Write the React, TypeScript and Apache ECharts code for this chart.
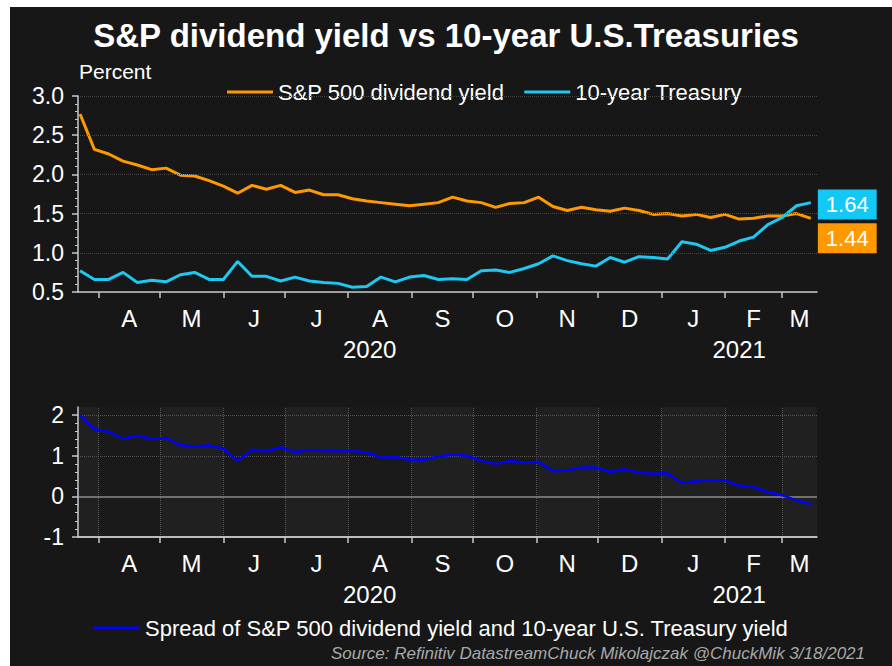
import React, { useEffect, useRef } from 'react';
import * as echarts from 'echarts';

const weekDates = [
  '2020-03-23', '2020-03-30', '2020-04-06', '2020-04-13', '2020-04-20', '2020-04-27',
  '2020-05-04', '2020-05-11', '2020-05-18', '2020-05-25', '2020-06-01', '2020-06-08',
  '2020-06-15', '2020-06-22', '2020-06-29', '2020-07-06', '2020-07-13', '2020-07-20',
  '2020-07-27', '2020-08-03', '2020-08-10', '2020-08-17', '2020-08-24', '2020-08-31',
  '2020-09-07', '2020-09-14', '2020-09-21', '2020-09-28', '2020-10-05', '2020-10-12',
  '2020-10-19', '2020-10-26', '2020-11-02', '2020-11-09', '2020-11-16', '2020-11-23',
  '2020-11-30', '2020-12-07', '2020-12-14', '2020-12-21', '2020-12-28', '2021-01-04',
  '2021-01-11', '2021-01-18', '2021-01-25', '2021-02-01', '2021-02-08', '2021-02-15',
  '2021-02-22', '2021-03-01', '2021-03-08', '2021-03-15',
];

const dividendYield = [
  2.77, 2.32, 2.26, 2.17, 2.12, 2.06, 2.08, 1.99, 1.98, 1.92, 1.85, 1.76, 1.86,
  1.81, 1.86, 1.77, 1.80, 1.74, 1.74, 1.69, 1.66, 1.64, 1.62, 1.60, 1.62, 1.64,
  1.71, 1.66, 1.64, 1.58, 1.63, 1.64, 1.71, 1.59, 1.54, 1.58, 1.55, 1.53, 1.57,
  1.54, 1.49, 1.50, 1.47, 1.49, 1.45, 1.49, 1.43, 1.44, 1.47, 1.47, 1.50, 1.44,
];

const treasuryYield = [
  0.77, 0.66, 0.66, 0.75, 0.62, 0.65, 0.63, 0.72, 0.75, 0.66, 0.66, 0.89, 0.70,
  0.70, 0.64, 0.69, 0.64, 0.62, 0.61, 0.56, 0.57, 0.69, 0.63, 0.69, 0.71, 0.66,
  0.67, 0.66, 0.77, 0.78, 0.75, 0.80, 0.86, 0.96, 0.90, 0.86, 0.83, 0.94, 0.88,
  0.95, 0.94, 0.92, 1.14, 1.11, 1.03, 1.07, 1.15, 1.20, 1.36, 1.45, 1.60, 1.64,
];

const spreadYield = [
  2.00, 1.65, 1.59, 1.42, 1.49, 1.41, 1.44, 1.26, 1.23, 1.25, 1.18, 0.87, 1.15,
  1.11, 1.21, 1.09, 1.14, 1.12, 1.12, 1.12, 1.08, 0.96, 0.97, 0.90, 0.90, 0.98,
  1.03, 1.00, 0.88, 0.80, 0.87, 0.83, 0.85, 0.62, 0.64, 0.71, 0.71, 0.60, 0.67,
  0.58, 0.56, 0.57, 0.33, 0.37, 0.40, 0.39, 0.27, 0.23, 0.10, 0.03, -0.10, -0.19,
];

const monthStarts = [
  '2020-04-01', '2020-05-01', '2020-06-01', '2020-07-01', '2020-08-01', '2020-09-01',
  '2020-10-01', '2020-11-01', '2020-12-01', '2021-01-01', '2021-02-01', '2021-03-01',
];
const yearStarts = ['2021-01-01'];
const axisStart = '2020-03-22';
const axisEnd = '2021-03-18';
const spreadTicks = [-1, 0, 1, 2];
const spreadGridValues = [1, 2];
const spreadMin = -1;
const monthLetters = ['J', 'F', 'M', 'A', 'M', 'J', 'J', 'A', 'S', 'O', 'N', 'D'];

const titleText = 'S&P dividend yield vs 10-year U.S.Treasuries';
const divName = 'S&P 500 dividend yield';
const tsyName = '10-year Treasury';
const spreadName = 'Spread of S&P 500 dividend yield and 10-year U.S. Treasury yield';
const sourceText = 'Source: Refinitiv DatastreamChuck Mikolajczak @ChuckMik 3/18/2021';

const FONT = '"Liberation Sans", Arial, Helvetica, sans-serif';

function toUTC(s: string): number {
  const [y, m, d] = s.split('-').map(Number);
  return Date.UTC(y, m - 1, d);
}

export default function App() {
  const ref = useRef<HTMLDivElement>(null);

  useEffect(() => {
    if (!ref.current) return;
    const chart = echarts.init(ref.current, undefined, { renderer: 'svg' });

    const minT = toUTC(axisStart);
    const maxT = toUTC(axisEnd);
    const tickTs = monthStarts.map(toUTC);
    const bounds = [...tickTs, maxT];
    const monthMids: number[] = [];
    for (let i = 0; i < bounds.length - 1; i++) monthMids.push((bounds[i] + bounds[i + 1]) / 2);
    const yb = [minT, ...yearStarts.map(toUTC), maxT];
    const yearMids: number[] = [];
    for (let i = 0; i < yb.length - 1; i++) yearMids.push((yb[i] + yb[i + 1]) / 2);

    // alternating month bands (lighter ones) for the lower panel
    const allBounds = [minT, ...tickTs, maxT];
    const bands: any[] = [];
    for (let i = 0; i < allBounds.length - 1; i += 2) {
      bands.push([{ xAxis: allBounds[i] }, { xAxis: allBounds[i + 1] }]);
    }

    const axisColor = '#c8c8c8';

    const monthAxis = (gridIndex: number) => ({
      type: 'value',
      gridIndex,
      position: 'bottom',
      z: 10,
      min: minT,
      max: maxT,
      axisLine: { show: true, onZero: false, lineStyle: { color: axisColor, width: 1.5 } },
      axisTick: { show: true, customValues: tickTs, length: 6, lineStyle: { color: axisColor, width: 1.5 } },
      axisLabel: {
        show: true,
        customValues: monthMids,
        formatter: (v: number) => monthLetters[new Date(v).getUTCMonth()],
        color: '#ffffff',
        fontSize: 24,
        fontFamily: FONT,
        margin: 14,
      },
      splitLine: { show: false },
      splitArea: { show: false },
    });

    const yearAxis = (gridIndex: number) => ({
      type: 'value',
      gridIndex,
      position: 'bottom',
      min: minT,
      max: maxT,
      axisLine: { show: false, onZero: false },
      axisTick: { show: false },
      splitLine: { show: false },
      axisLabel: {
        show: true,
        customValues: yearMids,
        formatter: (v: number) => String(new Date(v).getUTCFullYear()),
        color: '#ffffff',
        fontSize: 24,
        fontFamily: FONT,
        margin: 45,
      },
    });

    const pts = (vals: number[]) => weekDates.map((d, i) => [toUTC(d), vals[i]]);

    const gridLines = [
      ...tickTs.map((t) => ({ xAxis: t, lineStyle: { color: '#555555', type: 'dotted', width: 1 } })),
      ...spreadGridValues.map((v) => ({ yAxis: v, lineStyle: { color: '#555555', type: 'dotted', width: 1 } })),
      { yAxis: 0, lineStyle: { color: '#8c8c8c', type: 'solid', width: 1.5 } },
      { yAxis: spreadMin, lineStyle: { color: axisColor, type: 'solid', width: 1.5 } },
    ];

    chart.setOption({
      animation: false,
      backgroundColor: 'transparent',
      textStyle: { fontFamily: FONT },
      title: {
        text: titleText,
        left: 'center',
        top: 14,
        textStyle: { color: '#ffffff', fontSize: 33, fontWeight: 'bold', fontFamily: FONT },
      },
      legend: [
        {
          data: [divName, tsyName],
          left: 222,
          top: 76,
          icon: 'rect',
          itemWidth: 46,
          itemHeight: 3,
          itemGap: 20,
          textStyle: { color: '#ffffff', fontSize: 22, fontFamily: FONT },
        },
        {
          data: [spreadName],
          left: 88,
          top: 612,
          icon: 'rect',
          itemWidth: 47,
          itemHeight: 3,
          textStyle: { color: '#ffffff', fontSize: 22, fontFamily: FONT },
        },
      ],
      grid: [
        { left: 78, top: 96, width: 739, height: 196 },
        { left: 78, top: 407, width: 739, height: 130, show: true, backgroundColor: '#1a1a1a', borderWidth: 0 },
      ],
      xAxis: [monthAxis(0), yearAxis(0), monthAxis(1), yearAxis(1)],
      yAxis: [
        {
          type: 'value',
          gridIndex: 0,
          z: 10,
          min: 0.5,
          max: 3,
          interval: 0.5,
          axisLine: { show: true, lineStyle: { color: axisColor, width: 1.5 } },
          axisTick: { show: true, length: 6, lineStyle: { color: axisColor, width: 1.5 } },
          minorTick: { show: true, splitNumber: 5, length: 3, lineStyle: { color: axisColor } },
          axisLabel: {
            formatter: (v: number) => v.toFixed(1),
            color: '#ffffff',
            fontSize: 23,
            fontFamily: FONT,
            margin: 14,
          },
          splitLine: { show: true, lineStyle: { type: 'dotted', color: '#454545' } },
        },
        {
          type: 'value',
          gridIndex: 1,
          z: 10,
          min: spreadMin,
          max: 2.2,
          interval: 1,
          axisLine: { show: true, lineStyle: { color: axisColor, width: 1.5 } },
          axisTick: { show: true, customValues: spreadTicks, length: 6, lineStyle: { color: axisColor, width: 1.5 } },
          minorTick: { show: true, splitNumber: 5, length: 3, lineStyle: { color: axisColor } },
          axisLabel: {
            customValues: spreadTicks,
            formatter: (v: number) => String(Math.round(v)),
            color: '#ffffff',
            fontSize: 23,
            fontFamily: FONT,
            margin: 14,
          },
          splitLine: { show: false },
        },
      ],
      series: [
        {
          name: divName,
          type: 'line',
          xAxisIndex: 0,
          yAxisIndex: 0,
          data: pts(dividendYield),
          color: '#ff9900',
          showSymbol: false,
          lineStyle: { color: '#ff9900', width: 3 },
          z: 3,
          endLabel: {
            show: true,
            formatter: (p: any) => Number(p.value[1]).toFixed(2),
            color: '#ffffff',
            fontSize: 22,
            fontFamily: FONT,
            backgroundColor: '#ff9900',
            padding: [4, 8, 4, 8],
            distance: 7,
            offset: [0, 20],
          },
        },
        {
          name: tsyName,
          type: 'line',
          xAxisIndex: 0,
          yAxisIndex: 0,
          data: pts(treasuryYield),
          color: '#1ec8f0',
          showSymbol: false,
          lineStyle: { color: '#1ec8f0', width: 3 },
          z: 4,
          endLabel: {
            show: true,
            formatter: (p: any) => Number(p.value[1]).toFixed(2),
            color: '#ffffff',
            fontSize: 22,
            fontFamily: FONT,
            backgroundColor: '#14c8f5',
            padding: [4, 8, 4, 8],
            distance: 7,
            offset: [0, 2],
          },
        },
        {
          name: spreadName,
          type: 'line',
          xAxisIndex: 2,
          yAxisIndex: 1,
          data: pts(spreadYield),
          color: '#0000ff',
          showSymbol: false,
          lineStyle: { color: '#0000ff', width: 2.5 },
          z: 5,
          markArea: {
            silent: true,
            itemStyle: { color: '#202020' },
            label: { show: false },
            data: bands,
          },
          markLine: {
            silent: true,
            symbol: 'none',
            label: { show: false },
            data: gridLines,
          },
        },
      ],
      graphic: [
        {
          type: 'text',
          left: 79,
          top: 61,
          style: { text: 'Percent', fill: '#ffffff', font: `21px ${FONT}` },
        },
        {
          type: 'text',
          right: 27,
          top: 645,
          style: { text: sourceText, fill: '#a8a8a8', font: `italic 17px ${FONT}` },
        },
      ],
    });

    return () => chart.dispose();
  }, []);

  return (
    <div style={{ position: 'fixed', left: 0, top: 0, width: 892, height: 666, background: '#ffffff' }}>
      <div style={{ position: 'absolute', left: 10, top: 7, right: 0, bottom: 0, background: '#171717' }} />
      <div ref={ref} style={{ position: 'absolute', left: 0, top: 0, width: 892, height: 666 }} />
    </div>
  );
}
